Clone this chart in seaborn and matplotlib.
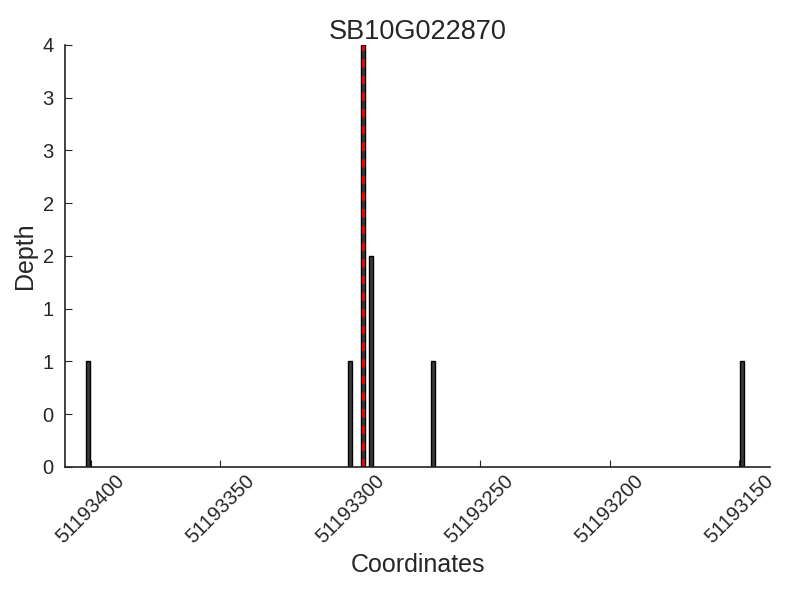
import numpy as np
import pandas as pd
import matplotlib
matplotlib.use("Agg")
import matplotlib.pyplot as plt
import seaborn as sns
from matplotlib.ticker import FormatStrFormatter, MultipleLocator

title = "SB10G022870"
positions = [51193401, 51193300, 51193295, 51193292, 51193268, 51193149]
depths = [1, 1, 4, 2, 1, 1]
marker_pos = 51193295
xticks = [51193400, 51193350, 51193300, 51193250, 51193200, 51193150]

sns.set_style("ticks")
plt.rcParams['font.family'] = ['Liberation Sans', 'DejaVu Sans']

df = pd.DataFrame({"pos": positions, "depth": depths})

fig = plt.figure(figsize=(8, 6), dpi=100)
ax = fig.add_axes([0.081, 0.222, 0.882, 0.703])

sns.barplot(data=df, x="pos", y="depth", native_scale=True, width=0.55,
            color="#3a3a3a", edgecolor="black", linewidth=1, saturation=1,
            errorbar=None, ax=ax)
ax.axvline(marker_pos, color="red", linestyle="--", linewidth=2, dashes=(3, 3))

ax.set_xlim(51193410, 51193138)
ax.set_ylim(0, 4)
ax.set_xticks(xticks)
ax.set_xticklabels([str(t) for t in xticks], rotation=45, fontsize=14.5)
ax.yaxis.set_major_locator(MultipleLocator(0.5))
ax.yaxis.set_major_formatter(FormatStrFormatter('%d'))
ax.tick_params(axis="both", direction="in", length=5, labelsize=14.5)
ax.tick_params(axis="y", pad=8)

sns.despine(ax=ax)
for s in ["left", "bottom"]:
    ax.spines[s].set_color("#222222")
    ax.spines[s].set_linewidth(1.2)

ax.set_title(title, fontsize=19.5, pad=3)
ax.set_xlabel("Coordinates", fontsize=18)
ax.set_ylabel("Depth", fontsize=18)

fig.savefig("out.png", dpi=100)
